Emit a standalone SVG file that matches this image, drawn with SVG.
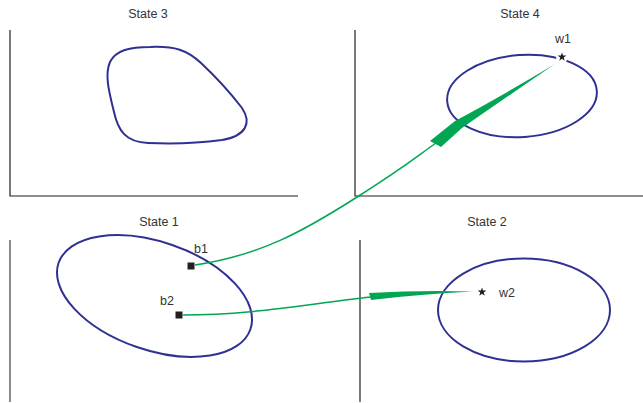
<svg xmlns="http://www.w3.org/2000/svg" width="643" height="403" viewBox="0 0 643 403">
<style>
.axis{stroke:#231f20;stroke-width:1.2;fill:none}
.axisg{stroke:#6d6e71;stroke-width:1.6;fill:none}
.loop{stroke:#2e3192;stroke-width:2;fill:none}
.conn{stroke:#00a651;stroke-width:1.5;fill:none}
.wedge{fill:#00a651;stroke:none}
.lbl{font-family:"Liberation Sans",Arial,sans-serif;font-size:12.5px;fill:#333}
.title{font-family:"Liberation Sans",Arial,sans-serif;font-size:12.5px;fill:#333;text-anchor:middle}
</style>
<defs>
<path id="star" d="M0,-4.6 L1.08,-1.5 L4.38,-1.42 L1.75,0.57 L2.7,3.72 L0,1.84 L-2.7,3.72 L-1.75,0.57 L-4.38,-1.42 L-1.08,-1.5 Z" fill="#231f20"/>
</defs>
<g id="state3">
<text class="title" x="148" y="18">State 3</text>
<path class="axis" d="M10,30 V196 H298"/>
<path class="loop" d="M150,47 C175,46 187,50 201,63 C216,77 232,95 242,108 C252,123 246,136 222,140 C200,143 170,144 148,143 C125,142 118,130 114,112 C110,95 104,76 110,62 C116,50 130,47 150,47 Z"/>
</g>
<g id="state4">
<text class="title" x="520" y="18">State 4</text>
<path class="axis" d="M355,30 V196 H643"/>
<ellipse class="loop" cx="522" cy="96" rx="75" ry="41" transform="rotate(-4 522 96)"/>
</g>
<g id="state1">
<text class="title" x="159" y="226">State 1</text>
<path class="axisg" d="M10,240 V402"/>
<ellipse class="loop" cx="154.5" cy="296" rx="101.5" ry="54" transform="rotate(19.1 154.5 296)"/>
</g>
<g id="state2">
<text class="title" x="487" y="226">State 2</text>
<path class="axis" d="M360,240 V402"/>
<ellipse class="loop" cx="524" cy="310" rx="86" ry="51.5"/>
</g>
<g id="connectors">
<path class="conn" d="M195,265 C262,255 305,230 354,199 S412,160 436,143"/>
<path class="wedge" d="M430,141 L441,147 L462,128 Q505,98 555,64 Q500,97 455,121 Z"/>
<path class="conn" d="M183,315 C250,315 300,305 371,297"/>
<path class="wedge" d="M369,293 L371,300 Q420,294 473,291.5 Q420,290 369,293 Z"/>
</g>
<g id="b1">
<rect x="187.5" y="262.5" width="7" height="7" fill="#231f20"/>
<text class="lbl" x="194" y="253">b1</text>
</g>
<g id="b2">
<rect x="175.5" y="311.5" width="7" height="7" fill="#231f20"/>
<text class="lbl" x="160" y="305">b2</text>
</g>
<g id="w1">
<circle cx="562" cy="57" r="6" fill="#fff"/>
<use href="#star" x="562" y="57"/>
<text class="lbl" x="555" y="43">w1</text>
</g>
<g id="w2">
<use href="#star" x="482" y="292"/>
<text class="lbl" x="499" y="297">w2</text>
</g>
</svg>
